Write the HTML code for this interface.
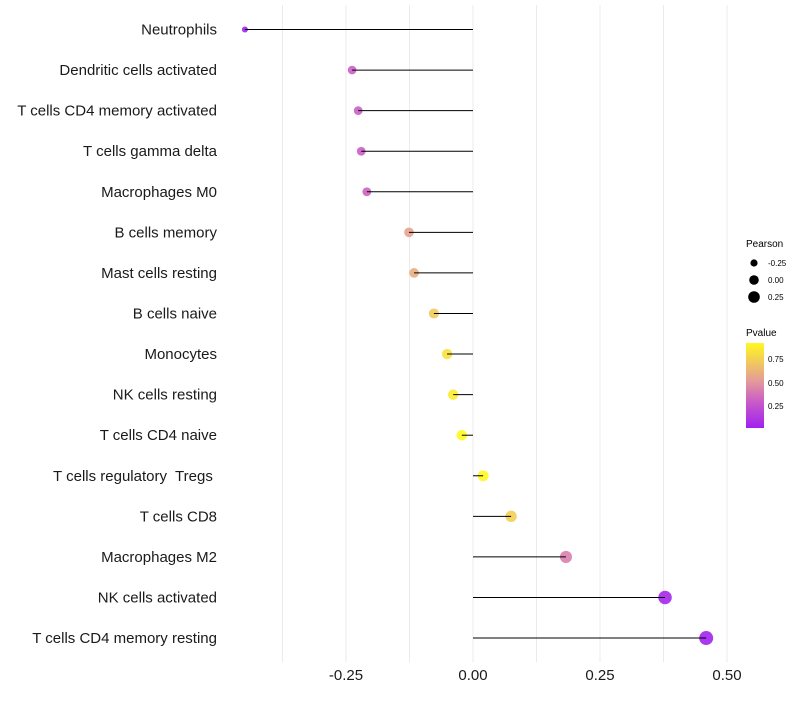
<!DOCTYPE html>
<html><head><meta charset="utf-8"><style>
body{margin:0;background:#fff;font-family:"Liberation Sans",sans-serif;}
svg text{font-family:"Liberation Sans",sans-serif;}
</style></head><body>
<svg id="chart" width="800" height="700" xmlns="http://www.w3.org/2000/svg">
<g id="grid"></g>
<g id="points"></g>
<g id="marks"></g>
<g id="ylabels"></g>
<g id="xlabels"></g>
<g>
<text x="746" y="247" font-size="10">Pearson</text>
<circle cx="754" cy="263" r="3.6" fill="#000"/>
<text x="768" y="266" font-size="8">-0.25</text>
<circle cx="754" cy="280" r="4.8" fill="#000"/>
<text x="768" y="283" font-size="8">0.00</text>
<circle cx="754" cy="297" r="5.8" fill="#000"/>
<text x="768" y="300" font-size="8">0.25</text>
</g>
<g>
<defs><linearGradient id="pg" x1="0" y1="1" x2="0" y2="0">
<stop offset="0" stop-color="#A020F0"/><stop offset="0.3" stop-color="#C85AC8"/><stop offset="0.55" stop-color="#E39A9A"/><stop offset="1" stop-color="#FFF820"/>
</linearGradient></defs>
<text x="746" y="336" font-size="10">Pvalue</text>
<rect x="746" y="343" width="18" height="85" fill="url(#pg)"/>
<text x="768" y="362" font-size="8">0.75</text>
<text x="768" y="386" font-size="8">0.50</text>
<text x="768" y="409" font-size="8">0.25</text>
</g>
</svg>
<script>
const categories=["Neutrophils","Dendritic cells activated","T cells CD4 memory activated","T cells gamma delta","Macrophages M0","B cells memory","Mast cells resting","B cells naive","Monocytes","NK cells resting","T cells CD4 naive","T cells regulatory\u00a0 Tregs\u00a0","T cells CD8","Macrophages M2","NK cells activated","T cells CD4 memory resting"];
const pearson=[-0.449,-0.238,-0.226,-0.220,-0.209,-0.126,-0.116,-0.077,-0.051,-0.039,-0.022,0.020,0.075,0.183,0.378,0.459];
const pvalue=[0.03,0.30,0.30,0.30,0.32,0.55,0.60,0.72,0.82,0.87,0.92,0.95,0.74,0.42,0.05,0.03];
const xTicks=[-0.25,0,0.25,0.5];
const xTickLabels=["-0.25","0.00","0.25","0.50"];
const NS="http://www.w3.org/2000/svg";
const X=v=>473+v*508;
const Y=i=>29.5+i*40.57;
const R=v=>Math.max(2,Math.sqrt(Math.max(4,28.9+43.8*v)));
function col(p){
  const s=[[0,[160,32,240]],[0.3,[200,90,200]],[0.55,[227,154,154]],[1,[255,248,32]]];
  p=Math.max(0,Math.min(1,(p-0.016)/(0.92-0.016)));
  let j=0;while(j<s.length-2&&p>s[j+1][0])j++;
  const a=s[j],b=s[j+1],t=(p-a[0])/(b[0]-a[0]);
  return "rgb("+a[1].map((c,k)=>Math.round(c+(b[1][k]-c)*t)).join(",")+")";
}
function mk(tag,attrs,parent){const e=document.createElementNS(NS,tag);for(const k in attrs)e.setAttribute(k,attrs[k]);parent.appendChild(e);return e;}
const grid=document.getElementById('grid'),marks=document.getElementById('marks'),pts=document.getElementById('points'),yl=document.getElementById('ylabels'),xl=document.getElementById('xlabels');
for(let g=-0.375;g<=0.51;g+=0.125){
  const l=mk('line',{x1:X(g),x2:X(g),y1:5,y2:662,stroke:'#ebebeb','stroke-width':1},grid);
  
  
}
categories.forEach((c,i)=>{
  const y=Y(i);
  const pt=mk('circle',{cx:X(pearson[i]),cy:y,r:R(pearson[i]),fill:col(pvalue[i]),'fill-opacity':0.9},pts);
  
  
  const ln=mk('line',{x1:X(0),x2:X(pearson[i]),y1:y,y2:y,stroke:'#000','stroke-width':1},marks);
  
  
  const t=mk('text',{x:217,y:y+5,'text-anchor':'end','font-size':15,fill:'#1a1a1a'},yl);
  t.textContent=c;
  
  
});
xTicks.forEach((v,i)=>{
  const t=mk('text',{x:X(v),y:680,'text-anchor':'middle','font-size':15,fill:'#1a1a1a'},xl);
  t.textContent=xTickLabels[i];
  
  
});
</script>
</body></html>
